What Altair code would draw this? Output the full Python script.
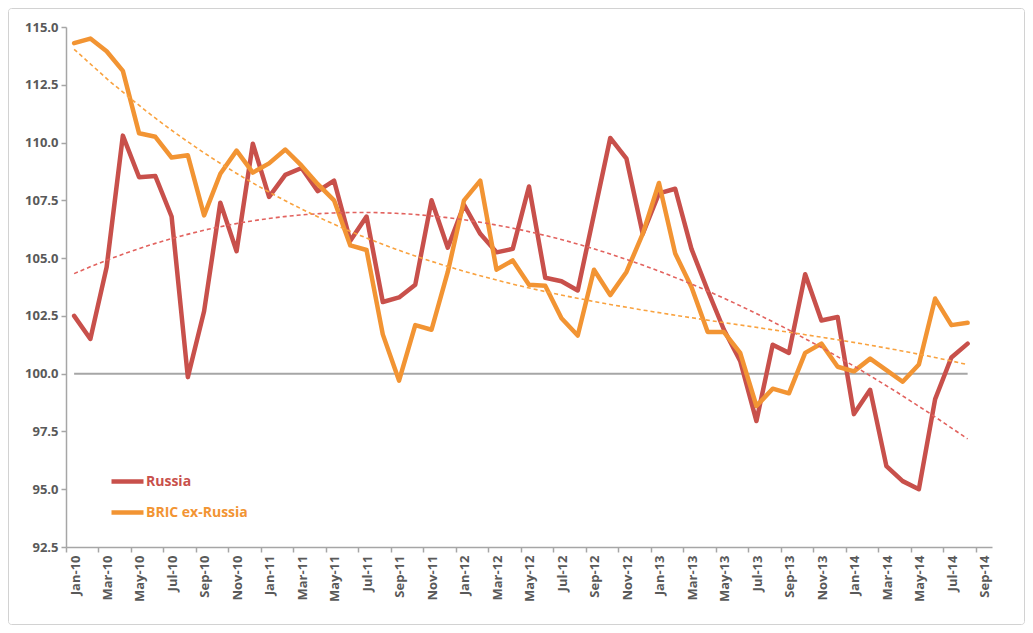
import json
import altair as alt
import pandas as pd

months = [
    "Jan-10", "Feb-10", "Mar-10", "Apr-10", "May-10", "Jun-10", "Jul-10", "Aug-10", "Sep-10", "Oct-10", "Nov-10", "Dec-10",
    "Jan-11", "Feb-11", "Mar-11", "Apr-11", "May-11", "Jun-11", "Jul-11", "Aug-11", "Sep-11", "Oct-11", "Nov-11", "Dec-11",
    "Jan-12", "Feb-12", "Mar-12", "Apr-12", "May-12", "Jun-12", "Jul-12", "Aug-12", "Sep-12", "Oct-12", "Nov-12", "Dec-12",
    "Jan-13", "Feb-13", "Mar-13", "Apr-13", "May-13", "Jun-13", "Jul-13", "Aug-13", "Sep-13", "Oct-13", "Nov-13", "Dec-13",
    "Jan-14", "Feb-14", "Mar-14", "Apr-14", "May-14", "Jun-14", "Jul-14", "Aug-14", "Sep-14",
]

russia = [102.5, 101.5, 104.6, 110.3, 108.5, 108.55, 106.8, 99.85, 102.7, 107.4, 105.3, 109.95,
          107.65, 108.6, 108.9, 107.9, 108.35, 105.75, 106.8, 103.1, 103.3, 103.85, 107.5, 105.45,
          107.3, 106.05, 105.25, 105.4, 108.1, 104.15, 104.0, 103.6, 106.9, 110.2, 109.3, 106.05,
          107.8, 108.0, 105.4, 103.6, 101.9, 100.55, 97.95, 101.25, 100.9, 104.3, 102.3, 102.45,
          98.25, 99.3, 96.0, 95.35, 95.0, 98.9, 100.7, 101.3]

bric = [114.3, 114.5, 113.95, 113.1, 110.4, 110.25, 109.35, 109.45, 106.85, 108.65, 109.65, 108.7,
        109.1, 109.7, 109.0, 108.2, 107.5, 105.55, 105.35, 101.7, 99.7, 102.1, 101.9, 104.4,
        107.5, 108.35, 104.5, 104.9, 103.85, 103.8, 102.4, 101.65, 104.5, 103.4, 104.4, 106.05,
        108.25, 105.2, 103.75, 101.8, 101.8, 100.9, 98.6, 99.35, 99.15, 100.9, 101.3, 100.3,
        100.1, 100.65, 100.15, 99.65, 100.4, 103.25, 102.1, 102.2]

series_names = ["Russia", "BRIC ex-Russia"]
y_ticks = [92.5, 95.0, 97.5, 100.0, 102.5, 105.0, 107.5, 110.0, 112.5, 115.0]
baseline = 100.0

RED = "#c8504b"
ORANGE = "#f29433"
RED_T = "#e2625e"
ORANGE_T = "#f9a23f"
GRAY = "#a6a6a6"
LABEL = "#595959"
FONT = "Open Sans"

W, H = 926, 520

n = len(russia)
df = pd.DataFrame({
    "idx": list(range(n)) * 2,
    "series": [series_names[0]] * n + [series_names[1]] * n,
    "value": russia + bric,
})

x_tick_values = [k - 0.5 for k in range(0, len(months), 2)]

x_enc = alt.X(
    "idx:Q",
    scale=alt.Scale(domain=[-0.5, len(months) - 0.5], nice=False, zero=False),
    axis=alt.Axis(
        values=x_tick_values,
        tickCount=len(x_tick_values) * 2,
        labelExpr=f"{json.dumps(months)}[datum.value + 0.5]",
        labelAngle=-90,
        labelOffset=9,
        labelOverlap=False,
        labelBound=False,
        labelFlush=False,
        labelPadding=3,
        title=None,
    ),
)
y_enc = alt.Y(
    "value:Q",
    scale=alt.Scale(domain=[y_ticks[0], y_ticks[-1]], nice=False, zero=False),
    axis=alt.Axis(values=y_ticks, tickCount=len(y_ticks) * 2, format=".1f", title=None, labelPadding=3),
)

color_enc = alt.Color(
    "series:N",
    scale=alt.Scale(domain=series_names, range=[RED, ORANGE]),
    legend=alt.Legend(
        title=None,
        orient="none",
        legendX=43,
        legendY=436,
        symbolType="stroke",
        symbolStrokeWidth=4.5,
        symbolSize=1024,
        labelFont=FONT,
        labelFontSize=14,
        labelFontWeight="bold",
        labelColor={"expr": f"datum.label == '{series_names[0]}' ? '{RED}' : '{ORANGE}'"},
        labelOffset=0,
        rowPadding=3,
        padding=0,
    ),
)

base = alt.Chart(df)

border = alt.Chart(pd.DataFrame({"a": [0]})).mark_rect(
    fillOpacity=0, stroke="#d2d2d2", strokeWidth=1, cornerRadius=3
).encode(
    x=alt.value(-57.5), x2=alt.value(W + 32.5), y=alt.value(-18.5), y2=alt.value(H + 77.5)
)

rule100 = alt.Chart(pd.DataFrame({"a": [0]})).mark_rule(color=GRAY, strokeWidth=2).encode(
    x=alt.datum(0), x2=alt.datum(n - 1), y=alt.datum(baseline)
)

line_style = dict(strokeWidth=4.5, strokeCap="round", strokeJoin="round")
russia_line = base.transform_filter(alt.datum.series == series_names[0]).mark_line(**line_style).encode(
    x=x_enc, y=y_enc, color=color_enc
)
bric_line = base.transform_filter(alt.datum.series == series_names[1]).mark_line(**line_style).encode(
    x=x_enc, y=y_enc, color=color_enc
)

def trend(name, col):
    return base.transform_filter(alt.datum.series == name).transform_regression(
        "idx", "value", method="poly", order=3
    ).mark_line(strokeWidth=1.6, strokeDash=[4, 3], color=col).encode(
        x=alt.X("idx:Q"), y=alt.Y("value:Q")
    )

chart = alt.layer(
    border, rule100, russia_line, bric_line, trend(series_names[0], RED_T), trend(series_names[1], ORANGE_T)
).properties(
    width=W,
    height=H,
    autosize=alt.AutoSizeParams(type="none"),
    padding={"left": 58, "top": 19, "right": 33, "bottom": 78},
    background="white",
).configure_view(
    stroke=None
).configure_axis(
    grid=False,
    domainColor=GRAY,
    domainWidth=1.5,
    tickColor=GRAY,
    tickWidth=1.5,
    tickSize=5,
    labelFont=FONT,
    labelFontSize=13,
    labelFontWeight="bold",
    labelColor=LABEL,
)

chart.save("out.html", embed_options={"renderer": "svg", "actions": False})
